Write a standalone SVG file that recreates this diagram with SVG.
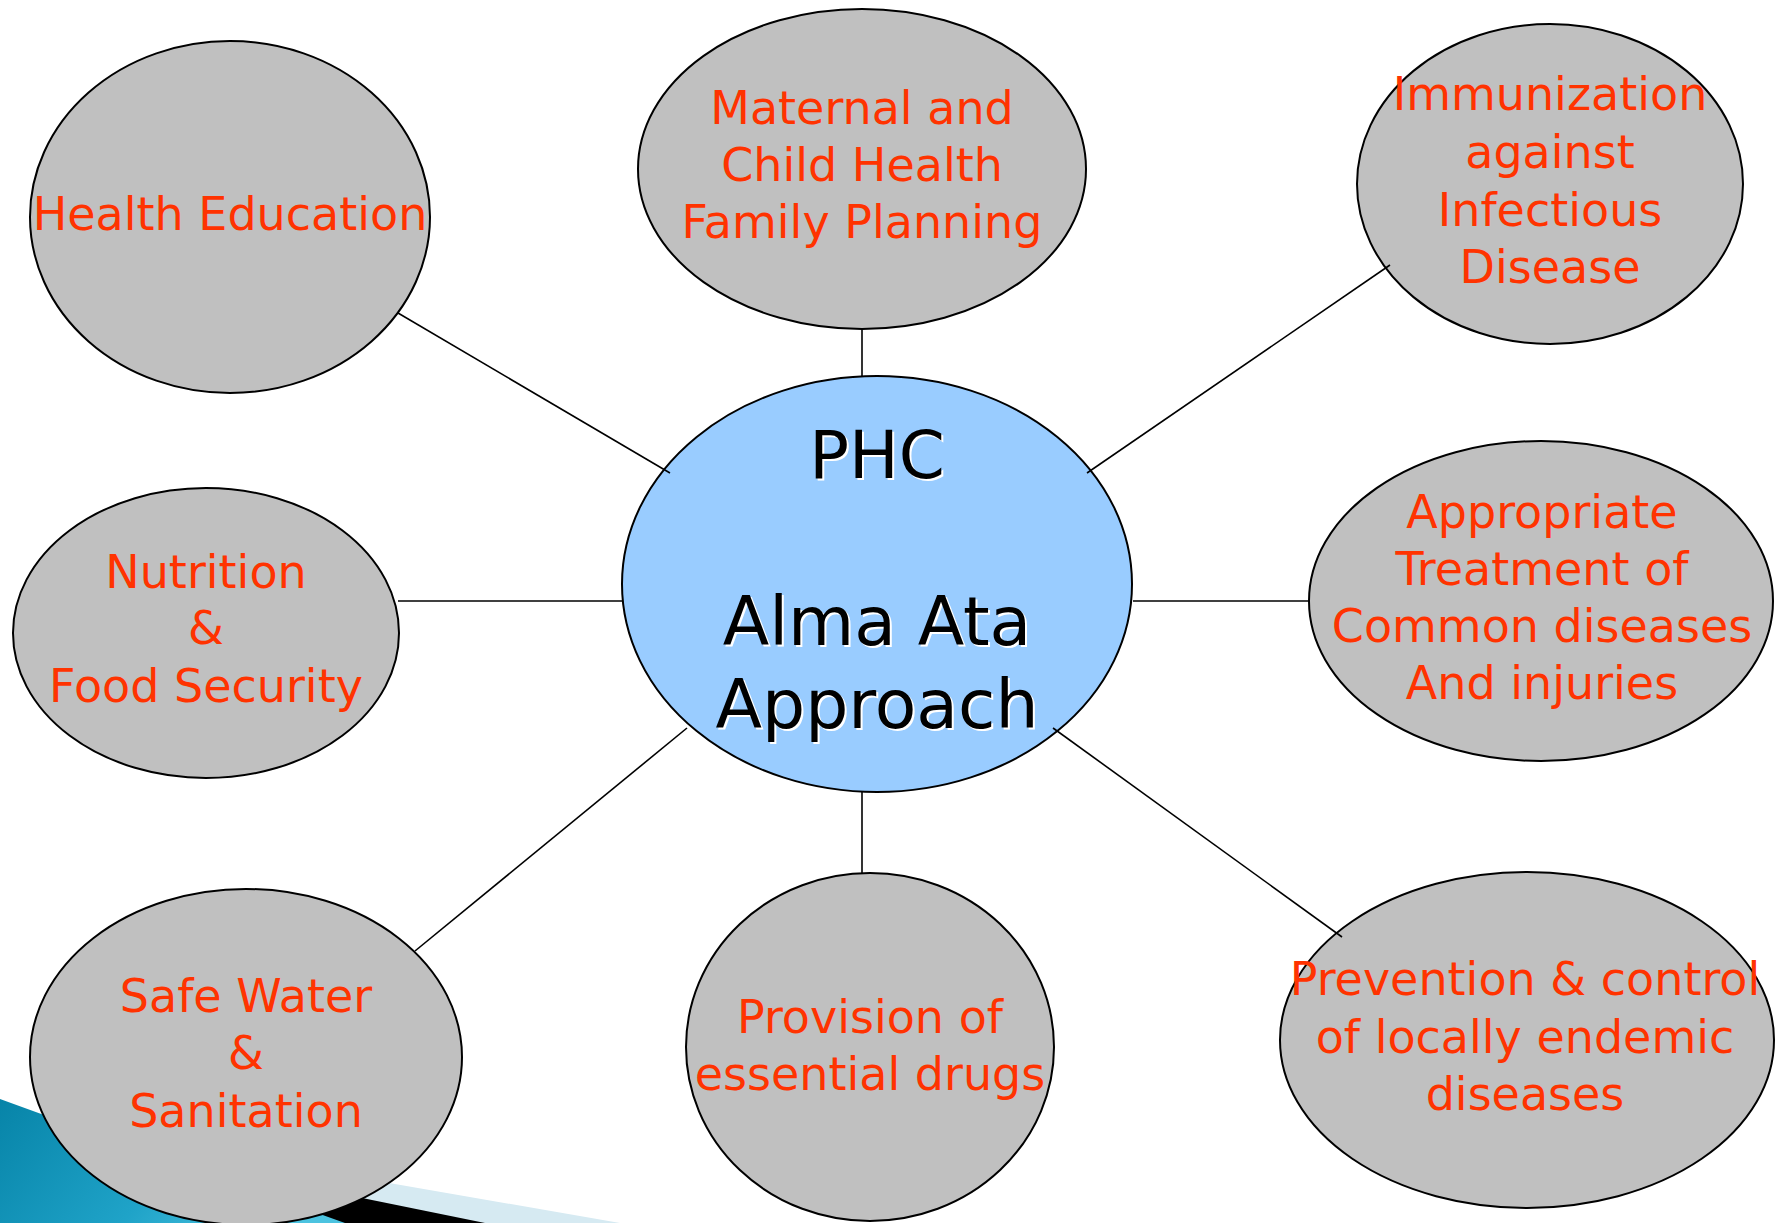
<svg xmlns="http://www.w3.org/2000/svg" width="1785" height="1223" viewBox="0 0 1785 1223">
<defs>
<linearGradient id="teal" x1="0" y1="0" x2="1" y2="0.3">
<stop offset="0" stop-color="#0784A8"/>
<stop offset="0.6" stop-color="#1FA3C8"/>
<stop offset="1" stop-color="#4CC3E0"/>
</linearGradient>
<style>
.node{fill:#C0C0C0;stroke:#000;stroke-width:2}
.center{fill:#99CCFF;stroke:#000;stroke-width:2}
.lbl{font-family:"DejaVu Sans",Verdana,sans-serif;font-size:46px;fill:#FF3300;text-anchor:middle}
.big{font-family:"DejaVu Sans",Verdana,sans-serif;font-size:68px;text-anchor:middle}
.phc{font-size:66px}
.conn line{stroke:#000;stroke-width:1.6}
</style>
</defs>
<rect width="1785" height="1223" fill="#FFFFFF"/>
<g id="decoration">
<path d="M200,1150 L620,1223 L200,1223 Z" fill="#D6EAF2"/>
<path d="M200,1165 L485,1223 L200,1223 Z" fill="#000000"/>
<path d="M0,1099 Q140,1150 345,1223 L0,1223 Z" fill="url(#teal)"/>
</g>
<g id="node-center">
<ellipse class="center" cx="877" cy="584" rx="255" ry="208"/>
</g>
<g id="node-health-education">
<ellipse class="node" cx="230" cy="217" rx="200" ry="176"/>
<text class="lbl" x="230" y="230">Health Education</text>
</g>
<g id="node-maternal">
<ellipse class="node" cx="862" cy="169" rx="224" ry="160"/>
<text class="lbl" x="862" y="124">Maternal and</text>
<text class="lbl" x="862" y="181">Child Health</text>
<text class="lbl" x="862" y="238">Family Planning</text>
</g>
<g id="node-immunization">
<ellipse class="node" cx="1550" cy="184" rx="193" ry="160"/>
<text class="lbl" x="1550" y="110">Immunization</text>
<text class="lbl" x="1550" y="168">against</text>
<text class="lbl" x="1550" y="226">Infectious</text>
<text class="lbl" x="1550" y="283">Disease</text>
</g>
<g id="node-nutrition">
<ellipse class="node" cx="206" cy="633" rx="193" ry="145"/>
<text class="lbl" x="206" y="588">Nutrition</text>
<text class="lbl" x="206" y="644">&amp;</text>
<text class="lbl" x="206" y="702">Food Security</text>
</g>
<g id="node-treatment">
<ellipse class="node" cx="1541" cy="601" rx="232" ry="160"/>
<text class="lbl" x="1542" y="528">Appropriate</text>
<text class="lbl" x="1542" y="585">Treatment of</text>
<text class="lbl" x="1542" y="642">Common diseases</text>
<text class="lbl" x="1542" y="699">And injuries</text>
</g>
<g id="node-water">
<ellipse class="node" cx="246" cy="1057" rx="216" ry="168"/>
<text class="lbl" x="246" y="1012">Safe Water</text>
<text class="lbl" x="246" y="1069">&amp;</text>
<text class="lbl" x="246" y="1127">Sanitation</text>
</g>
<g id="node-drugs">
<ellipse class="node" cx="870" cy="1047" rx="184" ry="174"/>
<text class="lbl" x="870" y="1033">Provision of</text>
<text class="lbl" x="870" y="1090">essential drugs</text>
</g>
<g id="node-prevention">
<ellipse class="node" cx="1527" cy="1040" rx="247" ry="168"/>
<text class="lbl" x="1525" y="995">Prevention &amp; control</text>
<text class="lbl" x="1525" y="1053">of locally endemic</text>
<text class="lbl" x="1525" y="1110">diseases</text>
</g>
<g id="connectors" class="conn">
<line x1="398" y1="313" x2="670" y2="473"/>
<line x1="862" y1="328" x2="862" y2="377"/>
<line x1="1390" y1="265" x2="1087" y2="473"/>
<line x1="398" y1="601" x2="622" y2="601"/>
<line x1="1133" y1="601" x2="1309" y2="601"/>
<line x1="415" y1="951" x2="687" y2="728"/>
<line x1="862" y1="792" x2="862" y2="873"/>
<line x1="1342" y1="937" x2="1053" y2="728"/>
</g>
<g id="center-text">
<text class="big phc" x="879" y="480" fill="#FFFFFF">PHC</text>
<text class="big phc" x="877" y="478" fill="#000000">PHC</text>
<text class="big" x="879" y="647" fill="#FFFFFF">Alma Ata</text>
<text class="big" x="877" y="645" fill="#000000">Alma Ata</text>
<text class="big" x="879" y="730" fill="#FFFFFF">Approach</text>
<text class="big" x="877" y="728" fill="#000000">Approach</text>
</g>
</svg>
